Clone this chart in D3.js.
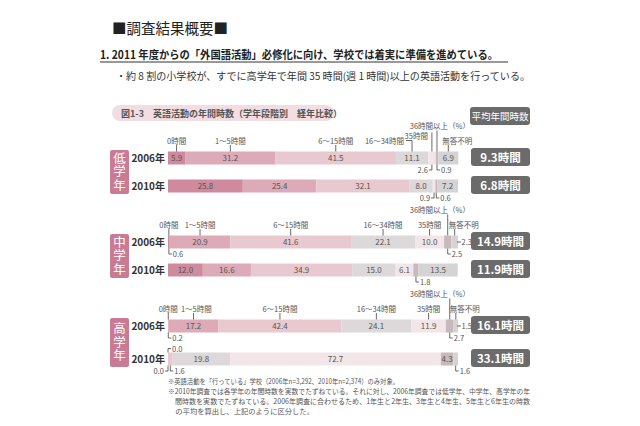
<!DOCTYPE html>
<html>
<head>
<meta charset="utf-8">
<script src="https://cdn.jsdelivr.net/npm/d3@7"></script>
<style>
  body { margin: 0; background: #fff; }
  svg { font-family: "Noto Sans CJK JP", "Noto Sans", sans-serif; }
</style>
</head>
<body>
<svg width="640" height="426"></svg>
<script>
// categories of yearly hours
const categories = ["0時間", "1～5時間", "6～15時間", "16～34時間", "35時間", "36時間以上（%）", "無答不明"];
const grades = ["低学年", "中学年", "高学年"];
const years = ["2006年", "2010年"];

// shares (%) per grade / year
const low2006 = [5.9, 31.2, 41.5, 11.1, 2.6, 0.9, 6.9];
const low2010 = [25.8, 25.4, 32.1, 8.0, 0.9, 0.6, 7.2];
const mid2006 = [0.6, 20.9, 41.6, 22.1, 10.0, 2.5, 2.3];
const mid2010 = [12.0, 16.6, 34.9, 15.0, 6.1, 1.8, 13.5];
const high2006 = [0.2, 17.2, 42.4, 24.1, 11.9, 2.7, 1.5];
const high2010 = [0.0, 0.0, 1.6, 19.8, 72.7, 4.3, 1.6];

// average yearly hours
const avgHours = [9.3, 6.8, 14.9, 11.9, 16.1, 33.1];

const colors = ["#cf8a9e", "#ddabb8", "#e9c9d0", "#ddd8d9", "#f3e6e9", "#c8b9bc", "#d5d3d3"];

// where small values go (null = inside bar)
const outside = [
  [null, null, null, null, "bl", "br", null],
  [null, null, null, null, "bl", "br", null],
  ["br", null, null, null, null, "br", "r"],
  [null, null, null, null, null, "br", null],
  ["br", null, null, null, null, "br", "r"],
  ["ar", "bl", "br", null, null, null, "br"]
];

// how category labels are placed above the 2006 bar of each grade
const labelStyle = [
  ["c", "c", "c", "e", "v", "t", "s"],
  ["c", "c", "c", "c", "c", "t", "s"],
  ["c", "c", "c", "c", "c", "t", "s"]
];

const rows = [
  { grade: 0, year: 0, values: low2006 },
  { grade: 0, year: 1, values: low2010 },
  { grade: 1, year: 0, values: mid2006 },
  { grade: 1, year: 1, values: mid2010 },
  { grade: 2, year: 0, values: high2006 },
  { grade: 2, year: 1, values: high2010 }
];

const svg = d3.select("svg");

const x = d3.scaleLinear().domain([0, 100]).range([168, 458]);
const gy = d3.scaleBand().domain(grades).range([148, 400]);
const yearGap = [28, 28, 33];
const yy = (gi) => d3.scalePoint().domain(years).range([10, 10 + yearGap[gi]]);
const barH = 13;
const rowY = r => gy(grades[r.grade]) + yy(r.grade)(years[r.year]);

// ---- header texts
svg.append("text").attr("x", 112).attr("y", 34)
  .attr("font-size", 14.5).attr("fill", "#222")
  .text("■調査結果概要■");

svg.append("text").attr("x", 100).attr("y", 59)
  .attr("font-size", 11.5).attr("font-weight", "bold").attr("fill", "#222")
  .attr("textLength", 398).attr("lengthAdjust", "spacingAndGlyphs")
  .text("1. 2011 年度からの「外国語活動」必修化に向け、学校では着実に準備を進めている。");
svg.append("line").attr("x1", 100).attr("x2", 508).attr("y1", 62).attr("y2", 62)
  .attr("stroke", "#333").attr("stroke-width", 1);

svg.append("text").attr("x", 116).attr("y", 80)
  .attr("font-size", 10).attr("fill", "#333")
  .attr("textLength", 414).attr("lengthAdjust", "spacingAndGlyphs")
  .text("・約 8 割の小学校が、すでに高学年で年間 35 時間(週 1 時間)以上の英語活動を行っている。");

// figure caption pill
svg.append("rect").attr("x", 112).attr("y", 105).attr("width", 222).attr("height", 16)
  .attr("rx", 8).attr("fill", "#f1dde2");
svg.append("text").attr("x", 121).attr("y", 116.5)
  .attr("font-size", 9).attr("font-weight", "bold").attr("fill", "#555")
  .text("図1-3　英語活動の年間時数（学年段階別　経年比較）");

// 平均年間時数 header
svg.append("rect").attr("x", 470).attr("y", 107).attr("width", 60).attr("height", 18)
  .attr("rx", 3).attr("fill", "#6b6b6b");
svg.append("text").attr("x", 500).attr("y", 119.5).attr("text-anchor", "middle")
  .attr("font-size", 9.5).attr("fill", "#fff").text("平均年間時数");

// ---- grade boxes (vertical text)
const gradeG = svg.selectAll(".grade").data(grades).enter().append("g");
gradeG.each(function (d, gi) {
  const top = gy(d) + yy(gi)(years[0]) - 8;
  const h = yy(gi)(years[1]) - yy(gi)(years[0]) + 16;
  const gg = d3.select(this);
  gg.append("rect").attr("x", 110).attr("width", 19)
    .attr("y", top).attr("height", h)
    .attr("rx", 2).attr("fill", "#c97b93");
  gg.append("text")
    .attr("x", 119.5).attr("y", top + h / 2)
    .attr("text-anchor", "middle")
    .style("writing-mode", "vertical-rl")
    .style("letter-spacing", "1px")
    .attr("font-size", 12.5).attr("fill", "#fff")
    .text(d);
});

// ---- rows
rows.forEach((r, ri) => {
  const cy = rowY(r);
  const top = cy - barH / 2, bot = cy + barH / 2;
  let cum = 0;
  const segs = r.values.map((v, i) => {
    const s = { v, i, x0: x(cum), x1: x(cum + v) };
    cum += v;
    s.cx = (s.x0 + s.x1) / 2;
    return s;
  });
  const g = svg.append("g");

  g.append("text").attr("x", 165).attr("y", cy + 3.5).attr("text-anchor", "end")
    .attr("font-size", 10).attr("font-weight", "bold").attr("fill", "#333")
    .text(years[r.year]);

  g.selectAll("rect").data(segs).enter().append("rect")
    .attr("x", d => d.x0).attr("y", top)
    .attr("width", d => Math.max(0, d.x1 - d.x0)).attr("height", barH)
    .attr("fill", d => colors[d.i]);

  const ln = (pts) => g.append("path").attr("d", d3.line()(pts))
    .attr("fill", "none").attr("stroke", "#444").attr("stroke-width", 0.8);
  const txt = (tx, ty, anchor, t, fs) => g.append("text").attr("x", tx).attr("y", ty)
    .attr("text-anchor", anchor).attr("font-size", fs || 8).attr("fill", "#555").text(t);

  segs.forEach(s => {
    const mode = outside[ri][s.i];
    const t = s.v.toFixed(1);
    if (mode === null) {
      txt(s.cx, cy + 3, "middle", t);
    } else if (mode === "bl") {
      ln([[s.cx, bot], [s.cx, bot + 5.5], [s.cx - 3, bot + 5.5]]);
      txt(s.cx - 4, bot + 8, "end", t, 7.5);
    } else if (mode === "br") {
      ln([[s.cx, bot], [s.cx, bot + 5.5], [s.cx + 3, bot + 5.5]]);
      txt(s.cx + 4, bot + 8, "start", t, 7.5);
    } else if (mode === "r") {
      ln([[s.x1 - 1, cy], [s.x1 + 3, cy]]);
      txt(s.x1 + 3.5, cy + 3, "start", t, 7.5);
    } else if (mode === "ar") {
      ln([[s.cx, top], [s.cx, top - 4], [s.cx + 3, top - 4]]);
      txt(s.cx + 4, top - 1, "start", t, 7.5);
    }
  });

  // category labels above 2006 bars
  if (r.year === 0) {
    const st = labelStyle[r.grade];
    const base = top - 8;
    let prevRight = -Infinity;
    segs.forEach(s => {
      const mode = st[s.i];
      const name = categories[s.i];
      const lab = g.append("text").attr("font-size", 7.5).attr("fill", "#555").text(name);
      if (mode === "c") {
        const w = lab.node().getComputedTextLength();
        const left = Math.max(s.cx - w / 2, prevRight + 3);
        lab.attr("x", left).attr("y", base);
        prevRight = left + w;
        ln([[s.cx, base + 1.5], [s.cx, top]]);
      } else if (mode === "e") {
        lab.attr("x", s.cx - 8).attr("y", base).attr("text-anchor", "end");
        ln([[s.cx - 6, base - 3], [s.cx, base - 3], [s.cx, top]]);
      } else if (mode === "v") {
        lab.attr("x", s.cx - 4).attr("y", base - 5).attr("text-anchor", "end");
        ln([[s.cx, base - 11], [s.cx, top]]);
      } else if (mode === "t") {
        lab.attr("x", x(100) + 12).attr("y", base - 15).attr("text-anchor", "end");
        ln([[s.cx, base - 13], [s.cx, top]]);
      } else if (mode === "s") {
        lab.attr("x", s.cx - 6).attr("y", base);
        ln([[s.cx, base + 1.5], [s.cx, top]]);
      }
    });
  }

  // average hours box
  g.append("rect").attr("x", 471).attr("y", cy - 10).attr("width", 59).attr("height", 18)
    .attr("rx", 3).attr("fill", "#6b6b6b");
  g.append("text").attr("x", 500.5).attr("y", cy + 3.5).attr("text-anchor", "middle")
    .attr("font-size", 11.5).attr("font-weight", "bold").attr("fill", "#fff")
    .text(avgHours[ri].toFixed(1) + "時間");
});

// ---- footnotes
const notes = [
  "※英語活動を「行っている」学校（2006年n=3,292、2010年n=2,374）のみ対象。",
  "※2010年調査では各学年の年間時数を実数でたずねている。それに対し、2006年調査では低学年、中学年、高学年の年",
  "　間時数を実数でたずねている。2006年調査に合わせるため、1年生と2年生、3年生と4年生、5年生と6年生の時数",
  "　の平均を算出し、上記のように区分した。"
];
const noteLen = [231, 362, 362, null];
svg.selectAll(".note").data(notes).enter().append("text")
  .attr("x", 168).attr("y", (d, i) => 384 + i * 10)
  .attr("font-size", 7.3).attr("fill", "#555")
  .each(function (d, i) {
    if (noteLen[i]) d3.select(this).attr("textLength", noteLen[i]).attr("lengthAdjust", "spacingAndGlyphs");
  })
  .text(d => d);
</script>
</body>
</html>
